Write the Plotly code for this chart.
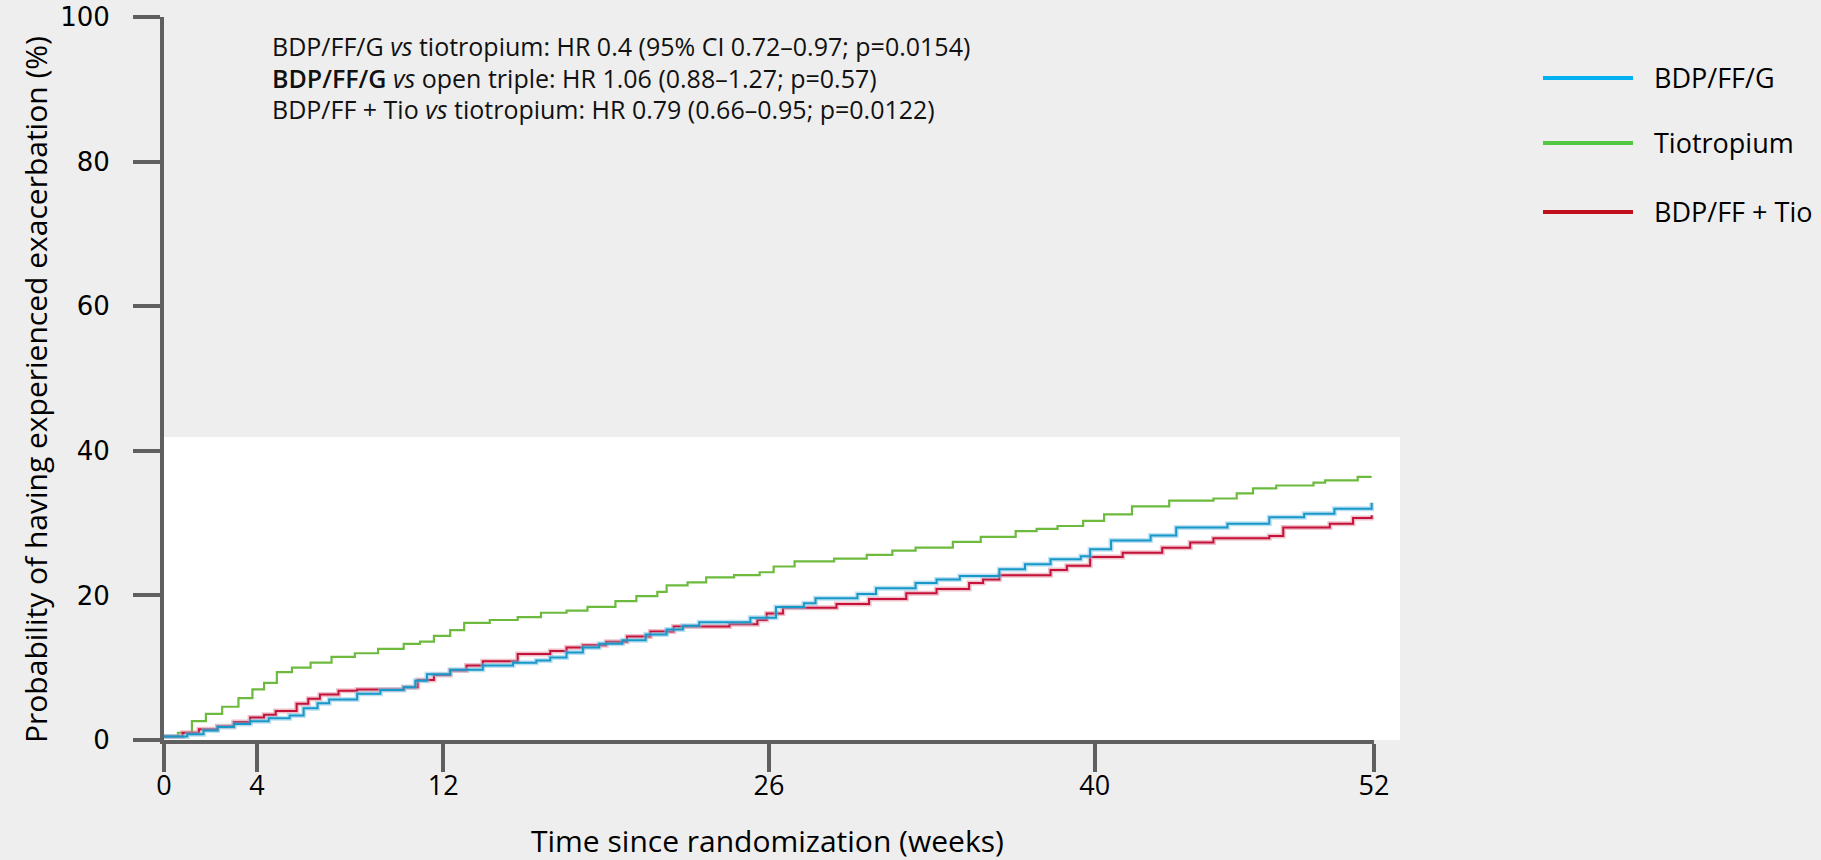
import plotly.graph_objects as go

# ---------------- data ----------------
series_names = ["BDP/FF/G", "Tiotropium", "BDP/FF + Tio"]

green_weeks = [0, 0.6, 1.2, 1.8, 2.5, 3.2, 3.8, 4.3, 4.85, 5.5, 6.3, 7.2, 8.2, 9.2, 10.3, 11.0,
               11.6, 12.3, 12.9, 14.0, 15.2, 16.2, 17.3, 18.2, 19.4, 20.3, 21.2, 21.6, 22.5,
               23.3, 24.5, 25.6, 26.2, 27.1, 28.8, 30.2, 31.3, 32.3, 33.9, 35.1, 36.6, 37.5,
               38.4, 39.5, 40.4, 41.6, 43.2, 45.1, 46.1, 46.8, 47.8, 49.4, 49.9, 51.3, 51.9]
green_pct = [0.5, 1.0, 2.6, 3.6, 4.6, 5.8, 7.0, 7.9, 9.4, 10.0, 10.7, 11.5, 12.0, 12.6, 13.3, 13.6,
             14.4, 15.2, 16.2, 16.6, 17.0, 17.6, 17.9, 18.4, 19.2, 19.9, 20.5, 21.4, 21.8,
             22.5, 22.8, 23.2, 24.0, 24.7, 25.1, 25.6, 26.2, 26.6, 27.4, 28.1, 28.9, 29.2,
             29.6, 30.3, 31.2, 32.3, 33.1, 33.4, 34.1, 34.8, 35.2, 35.6, 35.9, 36.4, 36.4]

blue_weeks = [0, 1.0, 1.7, 2.3, 3.0, 3.7, 4.5, 5.4, 6.0, 6.6, 7.1, 8.3, 9.3, 10.3, 10.8, 11.3,
              12.3, 13.7, 15.0, 16.0, 16.6, 17.3, 18.0, 18.7, 19.7, 20.7, 21.6, 22.3, 23.0,
              25.2, 26.3, 27.5, 28.0, 29.8, 30.6, 32.3, 33.2, 34.2, 35.9, 37.0, 38.1, 39.4,
              39.8, 40.7, 42.4, 43.5, 45.7, 47.5, 49.0, 50.3, 51.9]
blue_pct = [0.5, 0.8, 1.3, 1.8, 2.2, 2.6, 3.0, 3.4, 4.4, 5.1, 5.6, 6.4, 6.9, 7.3, 8.2, 9.1,
            9.7, 10.3, 10.7, 11.0, 11.4, 12.1, 12.8, 13.3, 13.8, 14.6, 15.3, 15.8, 16.3,
            16.9, 18.4, 18.9, 19.6, 20.2, 21.0, 21.7, 22.2, 22.7, 23.6, 24.3, 25.0, 25.4,
            26.4, 27.6, 28.3, 29.4, 29.9, 30.8, 31.3, 32.0, 32.8]

red_weeks = [0, 0.8, 1.5, 2.3, 3.0, 3.7, 4.3, 4.8, 5.7, 6.2, 6.7, 7.5, 8.3, 10.3, 10.9, 11.6,
             12.3, 13.0, 13.7, 15.2, 16.6, 17.3, 18.0, 19.0, 19.9, 20.9, 21.9, 24.3, 25.5,
             25.9, 26.6, 28.9, 30.3, 31.9, 33.2, 34.6, 35.2, 35.9, 38.1, 38.8, 39.8, 41.2,
             42.9, 44.1, 45.1, 47.5, 48.1, 50.1, 51.1, 51.9]
red_pct = [0.5, 1.0, 1.5, 1.9, 2.5, 3.1, 3.5, 4.0, 5.0, 5.7, 6.3, 6.8, 7.0, 7.3, 8.3, 9.0,
           9.6, 10.3, 10.9, 11.9, 12.3, 12.8, 13.1, 13.6, 14.3, 15.0, 15.7, 16.0, 16.6,
           17.5, 18.3, 18.8, 19.5, 20.3, 20.9, 21.7, 22.2, 22.8, 23.5, 24.1, 25.3, 25.9,
           26.6, 27.3, 27.9, 28.2, 29.4, 29.9, 30.7, 31.1]

x_ticks = [0, 4, 12, 26, 40, 52]
y_ticks = [0, 20, 40, 60, 80, 100]

stat_lines = [
    "BDP/FF/G <i>vs</i> tiotropium: HR 0.4 (95% CI 0.72\u20130.97; p=0.0154)",
    "<span style='font-weight:600'>BDP/FF/G</span> <i>vs</i> open triple: HR 1.06 (0.88\u20131.27; p=0.57)",
    "BDP/FF + Tio <i>vs</i> tiotropium: HR 0.79 (0.66\u20130.95; p=0.0122)",
]

x_title = "Time since randomization (weeks)"
y_title = "Probability of having experienced exacerbation (%)"

# ---------------- styling ----------------
BG = "#eeeeee"
AXIS = "#5f5f5f"
TXT = "Open Sans"

c_blue, c_blue_halo = "#1898c8", "rgba(120,195,230,0.5)"
c_green = "#6cbb3f"
c_red, c_red_halo = "#c4123a", "rgba(225,130,150,0.5)"

fig = go.Figure()

fig.add_trace(go.Scatter(x=green_weeks, y=green_pct, mode="lines", line_shape="hv",
                         line=dict(color=c_green, width=2.2), name=series_names[1],
                         showlegend=False, hoverinfo="skip"))
fig.add_trace(go.Scatter(x=red_weeks, y=red_pct, mode="lines", line_shape="hv",
                         line=dict(color=c_red_halo, width=5), showlegend=False, hoverinfo="skip"))
fig.add_trace(go.Scatter(x=red_weeks, y=red_pct, mode="lines", line_shape="hv",
                         line=dict(color=c_red, width=2), name=series_names[2], showlegend=False))
fig.add_trace(go.Scatter(x=blue_weeks, y=blue_pct, mode="lines", line_shape="hv",
                         line=dict(color=c_blue_halo, width=5), showlegend=False, hoverinfo="skip"))
fig.add_trace(go.Scatter(x=blue_weeks, y=blue_pct, mode="lines", line_shape="hv",
                         line=dict(color=c_blue, width=2), name=series_names[0], showlegend=False))

W, H = 1821, 860
L, R, T, B = 164, 447, 17, 120
pw, ph = W - L - R, H - T - B


def px(X):
    return (X - L) / pw


def py(Y):
    return (H - B - Y) / ph


shapes = []
shapes.append(dict(type="rect", xref="paper", yref="paper", x0=0, x1=px(1400), y0=0, y1=py(437),
                   fillcolor="white", line=dict(width=0), layer="below"))

annotations = []
for txt, yc in zip(stat_lines, [46.5, 77.8, 109.2]):
    annotations.append(dict(xref="paper", yref="paper", x=px(270), y=py(yc), text=txt,
                            showarrow=False, xanchor="left", yanchor="middle",
                            font=dict(family=TXT, size=25, color="#111111")))

leg_colors = ["#00b0f0", "#50c840", "#c0101c"]
for name, col, yc in zip(series_names, leg_colors, [78, 143, 212]):
    shapes.append(dict(type="line", xref="paper", yref="paper", x0=px(1543), x1=px(1633),
                       y0=py(yc), y1=py(yc), line=dict(color=col, width=4)))
    annotations.append(dict(xref="paper", yref="paper", x=px(1652), y=py(yc - 1), text=name,
                            showarrow=False, xanchor="left", yanchor="middle",
                            font=dict(family=TXT, size=27, color="black")))

annotations.append(dict(xref="paper", yref="paper", x=px(767), y=py(840), text=x_title,
                        showarrow=False, xanchor="center", yanchor="middle",
                        font=dict(family=TXT, size=30, color="black")))
annotations.append(dict(xref="paper", yref="paper", x=px(36), y=py(390), text=y_title,
                        textangle=-90, showarrow=False, xanchor="center", yanchor="middle",
                        font=dict(family=TXT, size=30, color="black")))

fig.update_layout(
    width=W, height=H,
    margin=dict(l=L, r=R, t=T, b=B, pad=0),
    paper_bgcolor=BG, plot_bgcolor=BG,
    showlegend=False,
    shapes=shapes, annotations=annotations,
    xaxis=dict(range=[0, 52], tickvals=x_ticks, ticktext=[str(v) for v in x_ticks],
               automargin=False,
               showgrid=False, zeroline=False, showline=True, linecolor=AXIS, linewidth=4,
               ticks="outside", ticklen=28, tickwidth=4, tickcolor=AXIS,
               tickfont=dict(family=TXT, size=27, color="black"), ticklabelstandoff=-9),
    yaxis=dict(range=[0, 100], tickvals=y_ticks, ticktext=[str(v) for v in y_ticks],
               automargin=False,
               showgrid=False, zeroline=False, showline=True, linecolor=AXIS, linewidth=4,
               ticks="outside", ticklen=27, tickwidth=4, tickcolor=AXIS,
               tickfont=dict(family="DejaVu Sans", size=26, color="black"), ticklabelstandoff=18),
)

fig.write_html("out.html", config={"displayModeBar": False},
               post_script="document.body.style.margin='0';document.body.style.overflow='hidden';")
